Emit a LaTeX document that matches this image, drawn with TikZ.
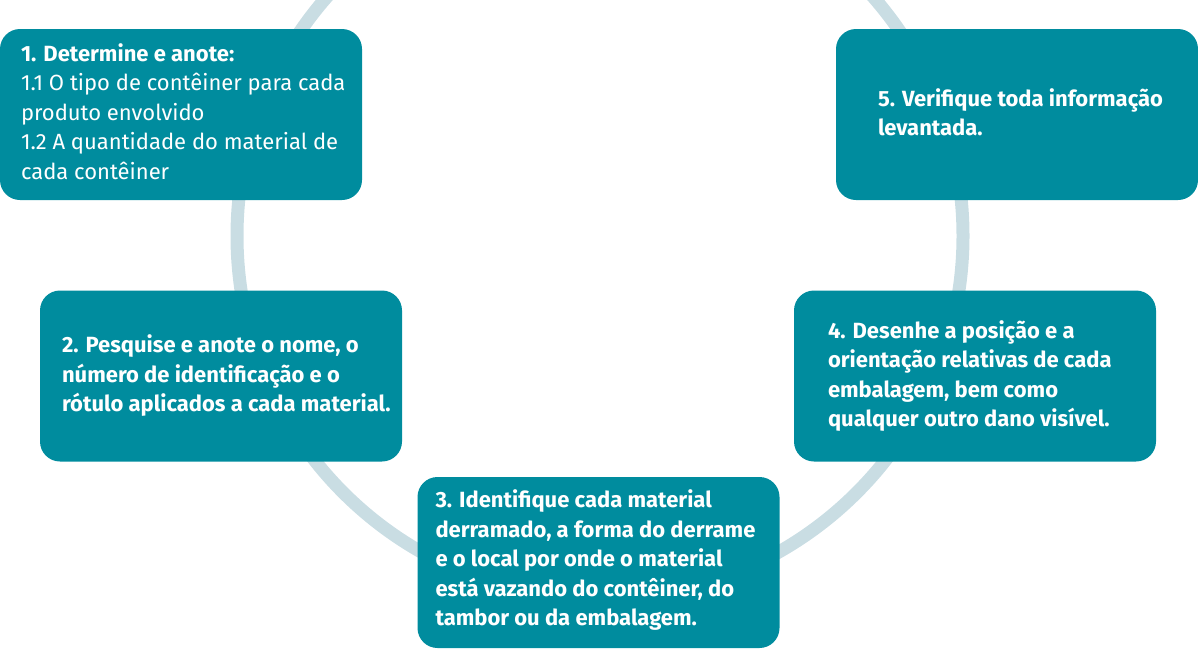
\documentclass[tikz,border=0pt]{standalone}
\usepackage{fontspec}
\setmainfont{Fira Sans}
\definecolor{boxteal}{HTML}{008C9E}
\definecolor{ringblue}{HTML}{C9DDE3}

\begin{document}
\begin{tikzpicture}[x=1pt, y=-1pt,
	stepbox/.style={fill=boxteal, rounded corners=20pt, minimum width=362pt, minimum height=171pt, inner sep=0pt},
	steptext/.style={anchor=west, align=left, text=white, inner sep=0pt, font=\fontsize{22}{29.5}\selectfont\bfseries}]

		\useasboundingbox (0,0) rectangle (1198,648);

		\draw [ringblue, line width=13pt] (600,236) circle [radius=363pt];

		\node [stepbox] (box1) at (181,114.5) {};
		\node [stepbox] (box2) at (221,376) {};
		\node [stepbox] (box3) at (598.5,562.5) {};
		\node [stepbox] (box4) at (975,376) {};
		\node [stepbox] (box5) at (1017,114.5) {};

		\node [steptext, font=\fontsize{22}{29.5}\selectfont] (text1) at ([xshift=21pt, yshift=3pt]box1.west)%
		{{\bfseries 1. Determine e anote:}\\ 1.1 O tipo de contêiner para cada\\ produto envolvido\\ 1.2 A quantidade do material de\\ cada contêiner};

		\node [steptext] (text2) at ([xshift=22pt]box2.west)%
		{2. Pesquise e anote o nome, o\\ número de identificação e o\\ rótulo aplicados a cada material.};

		\node [steptext] (text3) at ([xshift=18pt, yshift=2pt]box3.west)%
		{3. Identifique cada material\\ derramado, a forma do derrame\\ e o local por onde o material\\ está vazando do contêiner, do\\ tambor ou da embalagem.};

		\node [steptext] (text4) at ([xshift=34pt]box4.west)%
		{4. Desenhe a posição e a\\ orientação relativas de cada\\ embalagem, bem como\\ qualquer outro dano visível.};

		\node [steptext] (text5) at ([xshift=42pt, yshift=2pt]box5.west)%
		{5. Verifique toda informação\\ levantada.};
	\end{tikzpicture}
\end{document}
